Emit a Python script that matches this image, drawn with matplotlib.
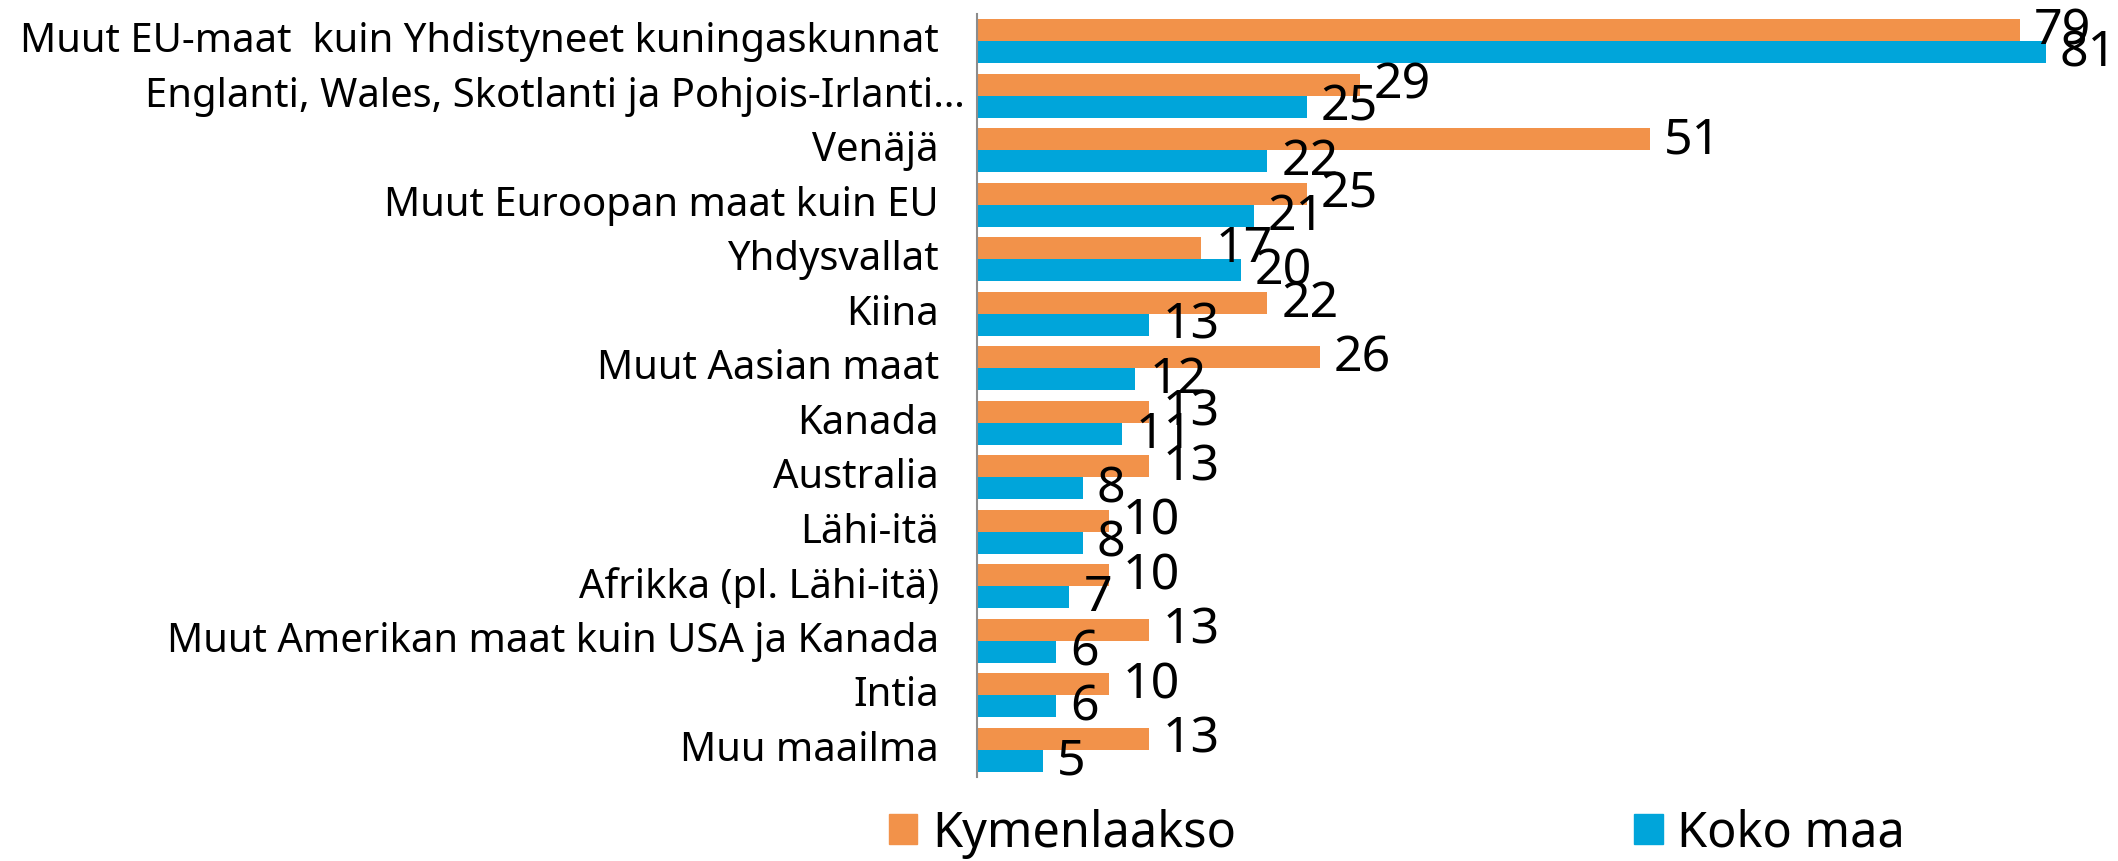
import matplotlib.pyplot as plt
from matplotlib.patches import Patch

plt.rcParams['font.family'] = ['Noto Sans', 'DejaVu Sans']

categories = ['Muut EU-maat  kuin Yhdistyneet kuningaskunnat',
              'Englanti, Wales, Skotlanti ja Pohjois-Irlanti…',
              'Venäjä', 'Muut Euroopan maat kuin EU', 'Yhdysvallat', 'Kiina',
              'Muut Aasian maat', 'Kanada', 'Australia', 'Lähi-itä',
              'Afrikka (pl. Lähi-itä)', 'Muut Amerikan maat kuin USA ja Kanada',
              'Intia', 'Muu maailma']
kymenlaakso = [79, 29, 51, 25, 17, 22, 26, 13, 13, 10, 10, 13, 10, 13]
koko_maa = [81, 25, 22, 21, 20, 13, 12, 11, 8, 8, 7, 6, 6, 5]

ORANGE = '#F2924A'
BLUE = '#00A5DA'

fig = plt.figure(figsize=(21.18, 8.62), dpi=100)
ax = fig.add_axes([977 / 2118, 1 - 778 / 862, 1135 / 2118, 763 / 862])

y = list(range(len(categories)))
ax.barh([i - 0.2 for i in y], kymenlaakso, height=0.4, color=ORANGE)
ax.barh([i + 0.2 for i in y], koko_maa, height=0.4, color=BLUE)

ax.set_xlim(0, 86)
ax.set_ylim(len(categories) - 0.5, -0.5)
ax.set_xticks([])
ax.set_yticks([])
for s in ['top', 'right', 'bottom']:
    ax.spines[s].set_visible(False)
ax.spines['left'].set_color('#8c8c8c')
ax.spines['left'].set_linewidth(1.5)

# category labels (the truncated one sits closer to the axis)
for i, lab in enumerate(categories):
    pad = 8.6 if lab.endswith('…') else 27.5
    ax.annotate(lab, xy=(0, i), xycoords=('axes fraction', 'data'),
                xytext=(-pad, 0), textcoords='offset points',
                ha='right', va='center', fontsize=28.8)

# value labels
for i in y:
    ax.annotate(str(kymenlaakso[i]), xy=(kymenlaakso[i], i - 0.2),
                xytext=(10, 0), textcoords='offset points',
                ha='left', va='center', fontsize=36)
    ax.annotate(str(koko_maa[i]), xy=(koko_maa[i], i + 0.2),
                xytext=(10, 0), textcoords='offset points',
                ha='left', va='center', fontsize=36)

handles = [Patch(color=ORANGE, label='Kymenlaakso'),
           Patch(color=BLUE, label='Koko maa')]
fig.legend(handles=handles, loc='center left', bbox_to_anchor=(889 / 2118, 1 - 834 / 862),
           ncol=2, frameon=False, fontsize=35, handlelength=0.58, handleheight=0.58,
           handletextpad=0.3, columnspacing=8.2, borderpad=0, borderaxespad=0)

fig.savefig('out.png', dpi=100)
